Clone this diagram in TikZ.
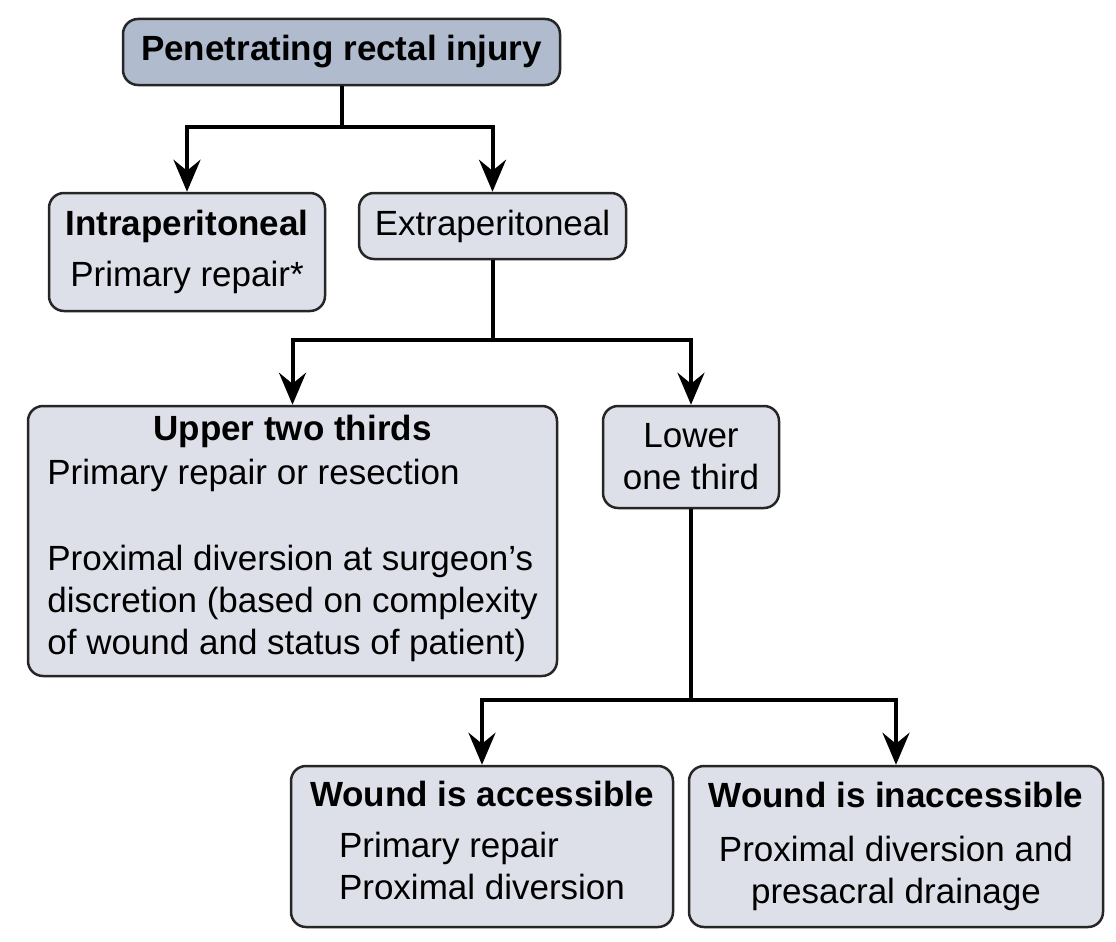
\documentclass[tikz,border=0pt]{standalone}
\usepackage{fontspec}
\setmainfont{Liberation Sans}
\usetikzlibrary{arrows.meta}
\definecolor{topfill}{RGB}{176,187,206}
\definecolor{boxfill}{RGB}{221,224,232}
\tikzset{
box/.style={draw=black!85,line width=2.5pt,rounded corners=15pt,fill=boxfill,inner sep=0pt,align=center,font=\fontsize{35}{42}\selectfont},
link/.style={line width=4pt,-{Stealth[length=32pt,width=27pt,inset=11pt]}}
}
\begin{document}
\begin{tikzpicture}[x=1pt,y=-1pt]
\useasboundingbox (0,0) rectangle (1116,942);
\node[box,fill=topfill,minimum width=437pt,minimum height=66pt] (injury) at (341.5,52) {\textbf{Penetrating rectal injury}};
\node[box,minimum width=276pt,minimum height=118pt] (intra) at (187,252) {\textbf{Intraperitoneal}\\[9pt] Primary repair*};
\node[box,minimum width=267pt,minimum height=66pt] (extra) at (492.5,226) {Extraperitoneal};
\node[box,minimum width=529pt,minimum height=270pt] (upper) at (292.5,541) {\textbf{Upper two thirds}\\[7pt]
\begin{tabular}{@{}l@{}}
Primary repair or resection\\[44pt]
Proximal diversion at surgeon’s\\
discretion (based on complexity\\
of wound and status of patient)
\end{tabular}};
\node[box,minimum width=176pt,minimum height=102pt] (lower) at (691,457) {Lower\\ one third};
\node[box,minimum width=382pt,minimum height=161pt] (access) at (482,846.5) {\textbf{Wound is accessible}\\[20pt]
\begin{tabular}{@{}l@{}}
Primary repair\\
Proximal diversion
\end{tabular}};
\node[box,minimum width=414pt,minimum height=161pt] (inacc) at (896,846.5) {\textbf{Wound is inaccessible}\\[12pt] Proximal diversion and\\ presacral drainage};
\draw[link] (injury.south) -- ++(0,41) -| (intra.north);
\draw[link] (injury.south) -- ++(0,41) -| (extra.north);
\draw[link] (extra.south) -- ++(0,80) -| (upper.north);
\draw[link] (extra.south) -- ++(0,80) -| (lower.north);
\draw[link] (lower.south) -- ++(0,191) -| (access.north);
\draw[link] (lower.south) -- ++(0,191) -| (inacc.north);
\end{tikzpicture}
\end{document}
